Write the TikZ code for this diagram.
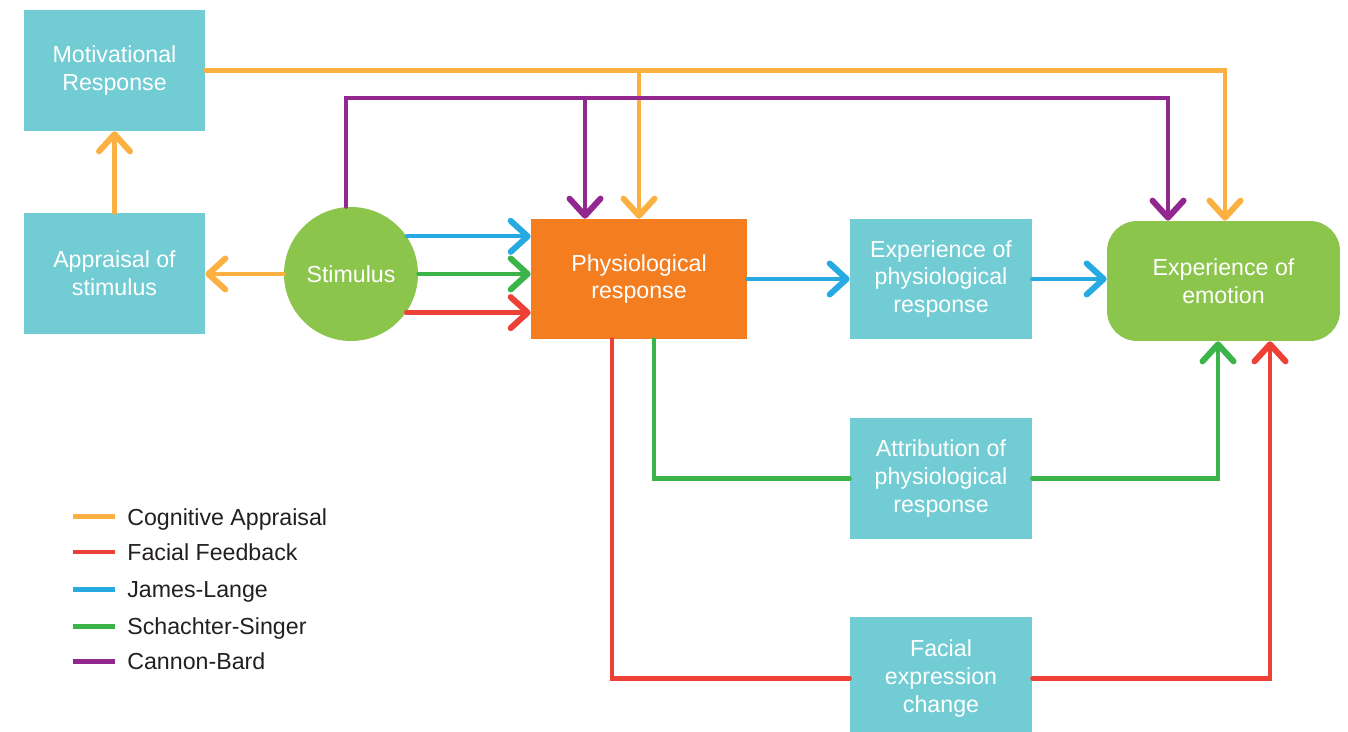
\documentclass[tikz,border=0pt]{standalone}
\usepackage{fontspec}
\setmainfont{Liberation Sans}
\usetikzlibrary{arrows.meta,calc,positioning}

\definecolor{boxteal}{HTML}{72CCD4}
\definecolor{boxorange}{HTML}{F47D20}
\definecolor{boxgreen}{HTML}{8CC54C}
\definecolor{lnorange}{HTML}{FDB042}
\definecolor{lnred}{HTML}{EE4136}
\definecolor{lnblue}{HTML}{27AAE1}
\definecolor{lngreen}{HTML}{3BB54A}
\definecolor{lnpurple}{HTML}{92278F}
\definecolor{legtext}{HTML}{231F20}

\tikzset{
  box/.style={fill=boxteal, text=white, align=center, inner sep=0pt,
    minimum width=3.62cm, minimum height=2.42cm,
    font=\fontsize{13.2}{15.9}\selectfont},
  link/.style={line width=0.085cm, line cap=round, line join=miter},
  tip/.style={-{Straight Barb[length=0.34cm,width=0.62cm,line width=0.12cm,round]}},
  cogn/.style={link, lnorange},
  facial/.style={link, lnred},
  jaml/.style={link, lnblue},
  schs/.style={link, lngreen},
  canb/.style={link, lnpurple},
  legline/.style={line width=0.1cm},
  legtxt/.style={anchor=base west, text=legtext, inner sep=0pt,
    font=\fontsize{13.2}{15.9}\selectfont},
}

\begin{document}
\begin{tikzpicture}[x=0.02cm, y=-0.02cm]
  \fill[white] (0,0) rectangle (1348,732);
  \useasboundingbox (0,0) rectangle (1348,732);

  % process boxes
  \node[box] (mot) at (114.5,70.5) {\raisebox{4pt}{\begin{tabular}{@{}c@{}}Motivational\\Response\end{tabular}}};
  \node[box] (app) at (114.5,273.5) {Appraisal of\\stimulus};
  \node[circle, fill=boxgreen, text=white, minimum size=2.68cm, inner sep=0pt,
        font=\fontsize{13.2}{15.9}\selectfont] (stim) at (351,274) {Stimulus};
  \node[box, fill=boxorange, minimum width=4.32cm, minimum height=2.4cm]
        (phys) at (639,279) {Physiological\\response};
  \node[box, minimum width=3.64cm, minimum height=2.4cm]
        (exphys) at (941,279) {Experience of\\physiological\\response};
  \node[box, fill=boxgreen, rounded corners=0.6cm, minimum width=4.66cm, minimum height=2.4cm]
        (emo) at (1223.5,281) {Experience of\\emotion};
  \node[box, minimum width=3.64cm] (attr) at (941,478.5)
        {Attribution of\\physiological\\response};
  \node[box, minimum width=3.64cm, minimum height=2.46cm] (face) at (941,678.5)
        {Facial\\expression\\change};

  % connector columns
  \coordinate (bus) at (700,98);
  \coordinate (caE) at ($(emo.north)+(1.5,0)$);
  \coordinate (cbE) at ($(emo.north)+(-55.5,0)$);
  \coordinate (cbP) at ($(phys.north)+(-54,0)$);
  \coordinate (ssE) at ($(emo.south)+(-5.5,0)$);
  \coordinate (ffE) at ($(emo.south)+(46.5,0)$);

  % Cognitive Appraisal
  \draw[cogn, tip] (stim.west) -- (stim.west -| app.east);
  \draw[cogn, tip] (app.north) -- (mot.south);
  \draw[cogn, tip] (mot.east) -| (caE);
  \draw[cogn, tip] (phys.north |- mot.east) -- (phys.north);

  % Cannon-Bard
  \draw[canb, tip] ([xshift=-0.1cm]stim.north) |- (bus) -| (cbE);
  \draw[canb, tip] (cbP |- bus) -- (cbP);

  % James-Lange
  \draw[jaml, tip] (stim.34.5) -- (stim.34.5 -| phys.west);
  \draw[jaml, tip] (phys.east) -- (phys.east -| exphys.west);
  \draw[jaml, tip] (exphys.east) -- (exphys.east -| emo.west);

  % Schachter-Singer
  \draw[schs, tip] (stim.east) -- (stim.east -| phys.west);
  \draw[schs] ([xshift=0.3cm]phys.south) |- (attr.west);
  \draw[schs, tip] (attr.east) -| (ssE);

  % Facial Feedback
  \draw[facial, tip] (stim.-35.6) -- (stim.-35.6 -| phys.west);
  \draw[facial] ([xshift=-0.54cm]phys.south) |- (face.west);
  \draw[facial, tip] (face.east) -| (ffE);

  % legend
  \foreach \y/\c/\t/\n in {517/lnorange/Cognitive Appraisal/la,
                           552/lnred/Facial Feedback/lb,
                           589/lnblue/James-Lange/lc,
                           626/lngreen/Schachter-Singer/ld,
                           661/lnpurple/Cannon-Bard/le}{
    \coordinate (\n s) at (73,\y);
    \coordinate (\n e) at (115,\y);
    \draw[legline, \c] (\n s) -- (\n e);
    \node[legtxt] (\n) at (127,\y+8.5) {\t};
  }
\end{tikzpicture}
\end{document}
